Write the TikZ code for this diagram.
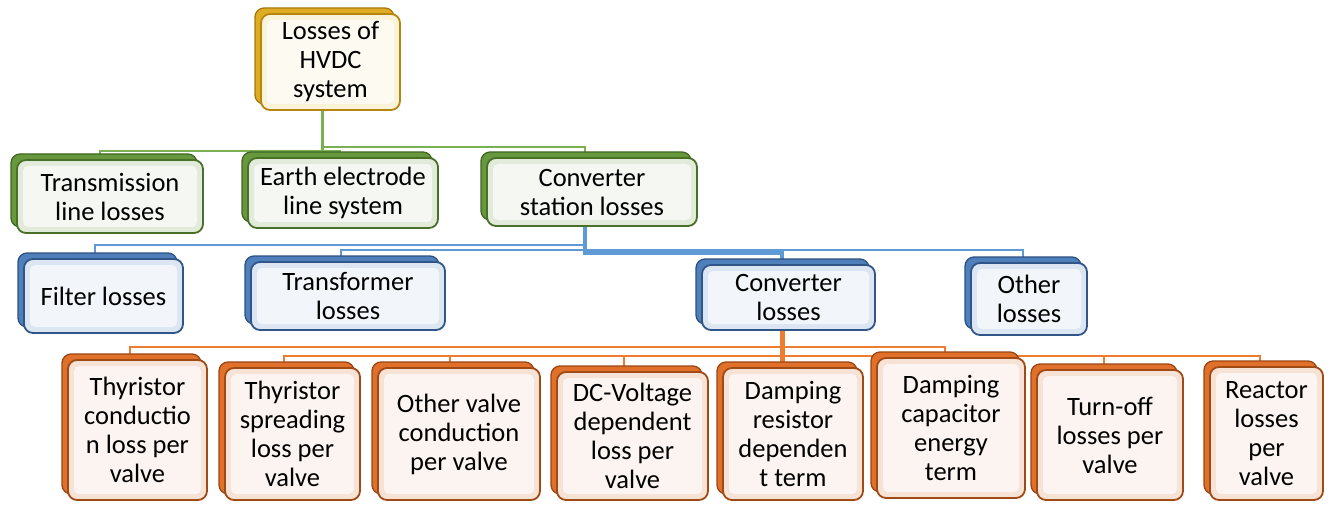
\documentclass[tikz,border=0pt]{standalone}
\usepackage{fontspec}
\setmainfont{Carlito}
\usetikzlibrary{shadows,backgrounds}

% box colours: face fill, face border, back fill, back border
\definecolor{goldface}{RGB}{250,243,218}
\definecolor{goldedge}{RGB}{180,134,14}
\definecolor{goldback}{RGB}{224,172,36}
\definecolor{goldbackedge}{RGB}{165,120,12}
\definecolor{greenface}{RGB}{226,234,218}
\definecolor{greenedge}{RGB}{72,112,40}
\definecolor{greenback}{RGB}{104,152,62}
\definecolor{greenbackedge}{RGB}{66,102,34}
\definecolor{blueface}{RGB}{220,230,243}
\definecolor{blueedge}{RGB}{48,86,136}
\definecolor{blueback}{RGB}{80,128,188}
\definecolor{bluebackedge}{RGB}{44,80,128}
\definecolor{orangeface}{RGB}{247,226,214}
\definecolor{orangeedge}{RGB}{160,74,22}
\definecolor{orangeback}{RGB}{224,112,42}
\definecolor{orangebackedge}{RGB}{154,70,20}
% connector colours
\definecolor{greenline}{RGB}{122,176,82}
\definecolor{blueline}{RGB}{94,154,214}
\definecolor{orangeline}{RGB}{237,125,49}

\tikzset{
  box/.style={rounded corners=9pt, line width=1.8pt, align=center,
    inner sep=0pt, text=black, font=\fontsize{26.5}{29}\selectfont},
  tier/.style n args={4}{box, fill=#1, draw=#2,
    copy shadow={shadow xshift=-6pt, shadow yshift=6pt, fill=#3, draw=#4,
      line width=1.3pt},
    path picture={\fill[white, opacity=.65, rounded corners=5pt]
      ([shift={(6pt,6pt)}]path picture bounding box.south west) rectangle
      ([shift={(-6pt,-6pt)}]path picture bounding box.north east);}},
  goldbox/.style={tier={goldface}{goldedge}{goldback}{goldbackedge}},
  greenbox/.style={tier={greenface}{greenedge}{greenback}{greenbackedge}},
  bluebox/.style={tier={blueface}{blueedge}{blueback}{bluebackedge}},
  orangebox/.style={tier={orangeface}{orangeedge}{orangeback}{orangebackedge}},
  gcon/.style={draw=greenline, line width=2.2pt},
  bcon/.style={draw=blueline, line width=2.2pt},
  ocon/.style={draw=orangeline, line width=2.5pt},
}

\begin{document}
\begin{tikzpicture}[x=1pt, y=-1pt]
\useasboundingbox (0,0) rectangle (1330,505);

% top
\node[goldbox, minimum width=139pt, minimum height=96pt] (root) at (330.5,62) {Losses of\\HVDC\\system};

% second tier
\node[greenbox, minimum width=186pt, minimum height=73pt] (tll) at (110,196.5) {Transmission\\line losses};
\node[greenbox, minimum width=190pt, minimum height=70pt] (eel) at (343,193) {Earth electrode\\line system};
\node[greenbox, minimum width=210pt, minimum height=68pt] (csl) at (592,192) {Converter\\station losses};

% third tier
\node[bluebox, minimum width=159pt, minimum height=74pt] (flt) at (103.5,296) {Filter losses};
\node[bluebox, minimum width=194pt, minimum height=68pt] (trf) at (348,296) {Transformer\\losses};
\node[bluebox, minimum width=173pt, minimum height=65pt] (cvl) at (788.5,297.5) {Converter\\losses};
\node[bluebox, minimum width=116pt, minimum height=72pt] (oth) at (1029,299) {Other\\losses};

% fourth tier
\node[orangebox, minimum width=139pt, minimum height=140pt] (tcn) at (137.5,430) {Thyristor\\conductio\\n loss per\\valve};
\node[orangebox, minimum width=135pt, minimum height=132pt] (tsp) at (292.5,434) {Thyristor\\spreading\\loss per\\valve};
\node[orangebox, minimum width=162pt, minimum height=132pt] (ovc) at (459,434) {Other valve\\conduction\\per valve};
\node[orangebox, minimum width=151pt, minimum height=128pt] (dcv) at (632.5,436) {DC-Voltage\\dependent\\loss per\\valve};
\node[orangebox, minimum width=140pt, minimum height=132pt] (drt) at (793,434) {Damping\\resistor\\dependen\\t term};
\node[orangebox, minimum width=148pt, minimum height=140pt] (dce) at (951,428) {Damping\\capacitor\\energy\\term};
\node[orangebox, minimum width=146pt, minimum height=130pt] (tof) at (1110,435) {Turn-off\\losses per\\valve};
\node[orangebox, minimum width=113pt, minimum height=133pt] (rlv) at (1266.5,433.5) {Reactor\\losses\\per\\valve};

\begin{scope}[on background layer]
  % top to second tier
  \draw[gcon, line width=2.8pt] ([xshift=-8pt]root.south) -- ++(0,42);
  \draw[gcon] ([xshift=-8pt]root.south) -- ++(0,36) -| ([xshift=-7pt]csl.north);
  \draw[gcon] ([xshift=-10pt]tll.north) -- ++(0,-8) -| ([xshift=-3pt]eel.north);

  % converter station to third tier
  \draw[bcon] ([xshift=-8.5pt]flt.north) -- ++(0,-13) -| ([xshift=-7pt]csl.south);
  \draw[bcon] ([xshift=-7pt]trf.north) -- ++(0,-11) -| ([xshift=-6pt]oth.north);
  \draw[bcon, line width=3.2pt] ([xshift=-7pt]csl.south) -- ++(0,26) -| ([xshift=-6.5pt]cvl.north);

  % converter losses to fourth tier
  \draw[ocon] ([xshift=-7.5pt]tcn.north) -- ++(0,-12) -| ([xshift=-6pt]dce.north);
  \draw[ocon] ([xshift=-8.5pt]tsp.north) -- ++(0,-11) -| ([xshift=-6.5pt]rlv.north);
  \draw[ocon] ([xshift=-9pt]ovc.north) -- ++(0,-11);
  \draw[ocon] ([xshift=-8.5pt]dcv.north) -- ++(0,-15);
  \draw[ocon] ([xshift=-6pt]tof.north) -- ++(0,-13);
  \draw[ocon, line width=4.5pt] ([xshift=-6pt]cvl.south) -- ([xshift=-6pt]cvl.south |- drt.north);
\end{scope}
\end{tikzpicture}
\end{document}
